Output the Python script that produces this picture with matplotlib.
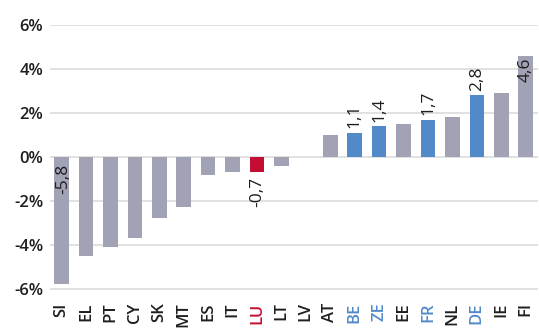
import matplotlib
matplotlib.use("Agg")
import matplotlib.pyplot as plt

countries = ["SI", "EL", "PT", "CY", "SK", "MT", "ES", "IT", "LU", "LT", "LV",
             "AT", "BE", "ZE", "EE", "FR", "NL", "DE", "IE", "FI"]
values = [-5.8, -4.5, -4.1, -3.7, -2.8, -2.3, -0.8, -0.7, -0.7, -0.4, 0.0,
          1.0, 1.1, 1.4, 1.5, 1.7, 1.8, 2.8, 2.9, 4.6]
highlight_blue = ["BE", "ZE", "FR", "DE"]
highlight_red = ["LU"]
labelled = {"SI": "-5,8", "LU": "-0,7", "BE": "1,1", "ZE": "1,4",
            "FR": "1,7", "DE": "2,8", "FI": "4,6"}
yticks = [-6, -4, -2, 0, 2, 4, 6]

GREY = "#A1A2B5"
BLUE = "#5189C9"
RED = "#C40D32"
TXT = "#1E1E1E"

plt.rcParams['font.family'] = ['Open Sans', 'DejaVu Sans']

fig = plt.figure(figsize=(5.39, 3.31), dpi=100)
ax = fig.add_axes([0.093, 0.124, 0.905, 0.8005])

colors = []
for c in countries:
    if c in highlight_blue:
        colors.append(BLUE)
    elif c in highlight_red:
        colors.append(RED)
    else:
        colors.append(GREY)

x = list(range(len(countries)))
ax.bar(x, values, width=0.6, color=colors, zorder=3)

FS = 12
VFS = 12.5
for i, (c, v) in enumerate(zip(countries, values)):
    if c not in labelled:
        continue
    t = labelled[c]
    if c == "SI":
        ax.text(i + 0.05, -0.3, t, rotation=90, ha="center", va="top",
                fontsize=VFS, color=TXT, zorder=4)
    elif v < 0:
        ax.text(i, v - 0.2, t, rotation=90, ha="center", va="top",
                fontsize=VFS, color=TXT, zorder=4)
    elif c == "FI":
        ax.text(i, v - 0.1, t, rotation=90, ha="center", va="top",
                fontsize=VFS, color=TXT, zorder=4)
    else:
        ax.text(i, v + 0.2, t, rotation=90, ha="center", va="bottom",
                fontsize=VFS, color=TXT, zorder=4)

ax.set_xlim(-0.47, len(countries) - 0.5)
ax.set_ylim(-6.05, 6.0)
ax.set_yticks(yticks)
ax.set_yticklabels([f"{t}%" for t in yticks], fontsize=FS,
                   fontweight="semibold", color=TXT)
ax.set_xticks(x)
ax.set_xticklabels(countries, rotation=90, fontsize=FS,
                   fontweight="semibold")
for lab, c in zip(ax.get_xticklabels(), countries):
    if c in highlight_blue:
        lab.set_color(BLUE)
    elif c in highlight_red:
        lab.set_color(RED)
    else:
        lab.set_color(TXT)

ax.grid(axis="y", color="#DCDCDC", linewidth=1.2, zorder=0)
ax.tick_params(axis="y", length=0, pad=5)
ax.tick_params(axis="x", length=0, pad=9)
for s in ax.spines.values():
    s.set_visible(False)

fig.savefig("out.png", dpi=100)
